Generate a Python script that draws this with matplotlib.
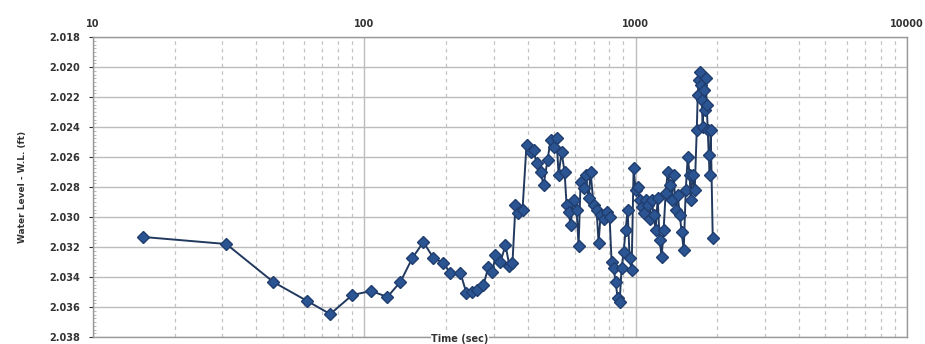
import matplotlib
matplotlib.use("Agg")
import matplotlib.pyplot as plt
from matplotlib.ticker import LogLocator, FixedLocator, MultipleLocator, NullFormatter

# time since start (sec) and water level (ft)
time_sec = [
    15.3, 31.0, 46.2, 61.6, 74.9, 90.3, 106.1, 121.6, 135.8, 150.4,
    165.1, 179.8, 195.6, 207.7, 226.1, 237.9, 250.3, 261.2, 274.8, 286.8,
    296.7, 304.4, 317.6, 331.4, 342.8, 351.6, 360.7, 370.1, 382.9, 396.1,
    409.8, 420.4, 431.3, 446.2, 457.7, 473.6, 485.8, 498.4, 511.3, 520.0,
    533.4, 547.2, 556.6, 566.2, 575.6, 590.6, 605.9, 616.3, 626.8, 643.0,
    654.1, 671.0, 682.4, 699.8, 717.9, 730.3, 742.7, 761.9, 781.6, 801.8,
    815.5, 829.5, 843.8, 858.2, 873.0, 887.8, 903.1, 918.6, 934.3, 950.3,
    966.5, 983.1, 1000, 1017, 1034, 1052, 1070, 1089, 1107, 1126,
    1146, 1165, 1185, 1206, 1226, 1247, 1268, 1290, 1313, 1335,
    1358, 1381, 1405, 1429, 1454, 1478, 1504, 1530, 1556, 1582,
    1596, 1623, 1651, 1680, 1694, 1708, 1723, 1738, 1752, 1767,
    1782, 1798, 1813, 1828, 1844, 1860, 1875, 1891, 1924,
]
water_level = [
    2.03133, 2.03180, 2.03433, 2.03560, 2.03647, 2.03520, 2.03493, 2.03533, 2.03433, 2.03273,
    2.03167, 2.03273, 2.03307, 2.03373, 2.03373, 2.03507, 2.03500, 2.03487, 2.03453, 2.03333,
    2.03367, 2.03253, 2.03300, 2.03187, 2.03327, 2.03307, 2.02920, 2.02973, 2.02953, 2.02520,
    2.02567, 2.02553, 2.02640, 2.02700, 2.02787, 2.02620, 2.02487, 2.02533, 2.02473, 2.02720,
    2.02567, 2.02700, 2.02920, 2.02967, 2.03053, 2.02887, 2.02953, 2.03193, 2.02767, 2.02807,
    2.02720, 2.02873, 2.02700, 2.02920, 2.02953, 2.03173, 2.02987, 2.03013, 2.02967, 2.03000,
    2.03300, 2.03340, 2.03433, 2.03540, 2.03567, 2.03340, 2.03233, 2.03087, 2.02953, 2.03273,
    2.03353, 2.02673, 2.02820, 2.02800, 2.02887, 2.02933, 2.02973, 2.02887, 2.02920, 2.03013,
    2.02887, 2.02987, 2.03087, 2.02873, 2.03153, 2.03267, 2.03087, 2.02840, 2.02700, 2.02787,
    2.02887, 2.02720, 2.02953, 2.02853, 2.02987, 2.03100, 2.03220, 2.02820, 2.02600, 2.02720,
    2.02887, 2.02720, 2.02820, 2.02420, 2.02187, 2.02087, 2.02033, 2.02120, 2.02220, 2.02400,
    2.02153, 2.02287, 2.02073, 2.02253, 2.02420, 2.02587, 2.02720, 2.02420, 2.03140,
]
y_ticks = [2.018, 2.020, 2.022, 2.024, 2.026, 2.028, 2.030, 2.032, 2.034, 2.036, 2.038]
x_ticks = [10, 100, 1000, 10000]

fig = plt.figure(figsize=(9.25, 3.44), dpi=100)
ax = fig.add_axes([0.1005, 0.0203, 0.88, 0.8721])

ax.plot(time_sec, water_level, color="#22395f", linewidth=1.4,
        marker="D", markersize=6, markerfacecolor="#2b5592",
        markeredgecolor="#1f3d6e", zorder=3)

ax.set_xscale("log")
ax.set_xlim(10, 10000)
ax.set_ylim(2.038, 2.018)

ax.xaxis.set_ticks_position("top")
ax.xaxis.set_major_locator(FixedLocator(x_ticks))
ax.set_xticklabels([str(t) for t in x_ticks])
ax.xaxis.set_minor_locator(LogLocator(base=10, subs=range(2, 10)))
ax.xaxis.set_minor_formatter(NullFormatter())

ax.yaxis.set_major_locator(FixedLocator(y_ticks))
ax.set_yticklabels([f"{v:.3f}" for v in y_ticks])
ax.yaxis.set_minor_locator(MultipleLocator(0.00025))

ax.tick_params(axis="x", which="both", length=0, labelsize=7, pad=6, colors="#333333")
ax.tick_params(axis="y", which="major", length=3, labelsize=7, pad=6, colors="#333333")
ax.tick_params(axis="y", which="minor", length=2, direction="in", color="#aaaaaa")
for lbl in ax.get_xticklabels() + ax.get_yticklabels():
    lbl.set_fontweight("bold")

ax.grid(True, which="major", axis="both", color="#bcbcbc", linewidth=1.0, linestyle="-")
ax.grid(True, which="minor", axis="x", color="#c4c4c4", linewidth=0.9, linestyle=(0, (3, 3)))
ax.set_axisbelow(True)

for sp in ax.spines.values():
    sp.set_color("#999999")
    sp.set_linewidth(1.0)

ax.set_ylabel("Water Level - W.L. (ft)", fontsize=6.5, fontweight="bold", color="#333333", labelpad=16)
fig.text(460 / 925, 1 - 339 / 344, "Time (sec)", fontsize=7, fontweight="bold",
         color="#333333", ha="center", va="center",
         bbox=dict(facecolor="white", edgecolor="none", pad=0.5))

fig.savefig("out.png", dpi=100)
